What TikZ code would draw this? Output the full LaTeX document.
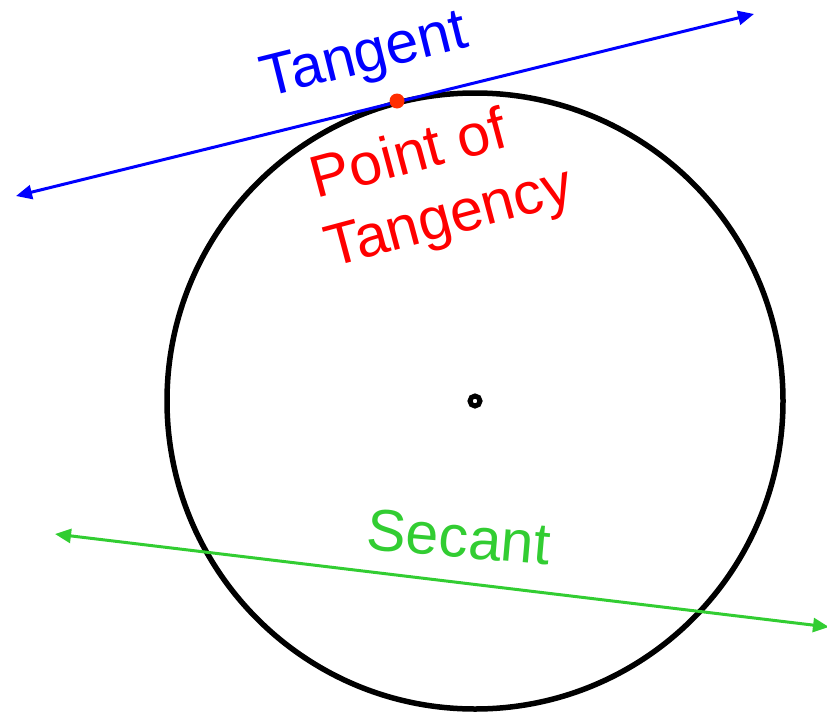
\documentclass[tikz,border=0pt]{standalone}
\usepackage{fontspec}
\setmainfont{Liberation Sans}
\usetikzlibrary{arrows.meta}
\definecolor{tanblue}{RGB}{0,0,255}
\definecolor{pointred}{RGB}{255,0,0}
\definecolor{dotred}{RGB}{255,45,0}
\definecolor{secgreen}{RGB}{50,205,50}
\newcommand{\lblfont}{\fontsize{59}{70}\selectfont}
\tikzset{
  rim/.style={draw=black, line width=5.5pt},
  label text/.style={inner sep=0pt, font=\lblfont}
}

\begin{document}
\begin{tikzpicture}[x=1pt, y=-1pt,
  % tangent line and its label
  tanline/.style = {tanblue, line width=3pt,
                    {Triangle[length=16pt,width=14pt]}-{Triangle[length=16pt,width=14pt]}},
  % secant line and its label
  secline/.style = {secgreen, line width=3pt,
                    {Triangle[length=16pt,width=14pt]}-{Triangle[length=16pt,width=14pt]}},
]
\useasboundingbox (0,0) rectangle (827,712);

% ──────────────────────────
%  Circle and its centre
% ──────────
\coordinate (O) at (475,401);
\draw[rim] (O) circle[radius=308];
\draw[black, line width=5pt] (O) circle[radius=5];

% ──────────────────────────
%  Tangent line, touching the circle at (P)
% ──────────
\coordinate (tanL) at (16,196);
\coordinate (tanR) at (754,14);
\coordinate (P) at (397,101);
\draw[tanline] (tanL) -- (tanR);
\fill[dotred] (P) circle[radius=7.5];

\node[label text, tanblue, rotate=14] (tanlbl) at (365,58) {Tangent};

\node[label text, pointred, rotate=15] (ptlbl) at (408,152) {Point of};
\node[label text, pointred, rotate=15] (tgylbl) at (450,221) {Tangency};

% ──────────────────────────
%  Secant line, cutting the circle twice
% ──────────
\coordinate (secL) at (55,534);
\coordinate (secR) at (829,627);
\draw[secline] (secL) -- (secR);

\node[label text, secgreen, rotate=-5] (seclbl) at (459,537) {Secant};

\end{tikzpicture}
\end{document}
